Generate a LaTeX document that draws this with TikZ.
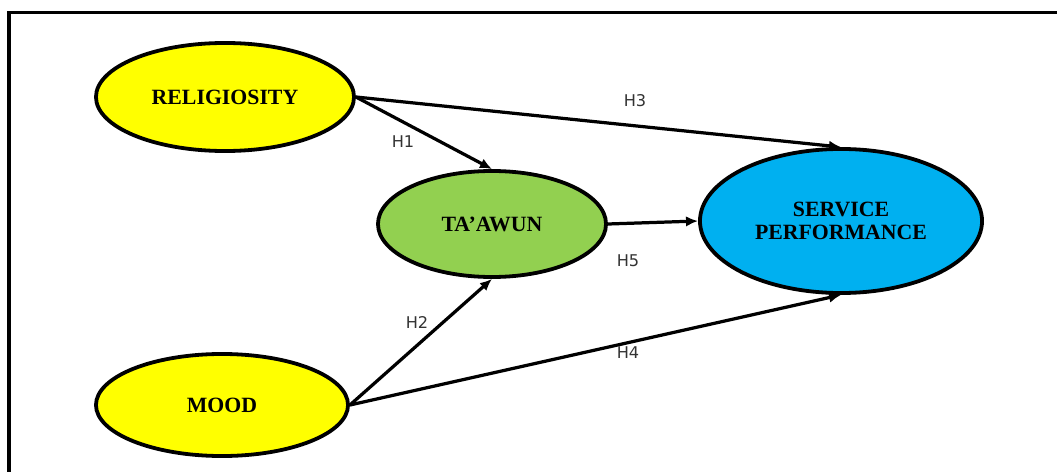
\documentclass[tikz,border=0pt]{standalone}
\usepackage{fontspec}
\setmainfont{Liberation Serif}
\newfontfamily\hfont{DejaVu Sans}
\usetikzlibrary{shapes.geometric,arrows.meta}
\definecolor{jaune}{HTML}{FFFF00}
\definecolor{vert}{HTML}{92D050}
\definecolor{bleu}{HTML}{00B0F0}
\tikzset{
  latente/.style={ellipse, draw=black, line width=2.7pt, inner sep=0pt,
    align=center, font=\fontsize{15.5}{15}\selectfont\bfseries},
  lien/.style={line width=2.3pt, -{Latex[length=3mm,width=2.6mm]}},
  hyp/.style={font=\hfont\fontsize{11.5}{12}\selectfont, text=black!80}
}
\begin{document}
\begin{tikzpicture}[x=0.025cm, y=-0.025cm]
  \useasboundingbox (0,0) rectangle (1057,472);

  % Cadre
  \draw[line width=2.6pt] (9,472) -- (9,12.5) -- (1057,12.5);

  % Variables
  \node[latente, fill=jaune, minimum width=6.45cm, minimum height=2.7cm] (relig) at (225,97) {RELIGIOSITY};
  \node[latente, fill=jaune, minimum width=6.3cm, minimum height=2.55cm] (mood) at (222,405) {MOOD};
  \node[latente, fill=vert, minimum width=5.7cm, minimum height=2.65cm] (taawun) at (492,224) {TA’AWUN};
  \node[latente, fill=bleu, minimum width=7.05cm, minimum height=3.6cm] (perf) at (841,221) {SERVICE\\[1pt]PERFORMANCE};

  % Hypotheses
  \draw[lien] (relig.east) -- (taawun.north);
  \draw[lien] (relig.east) -- (perf.north);
  \draw[lien] (mood.east) -- (taawun.south);
  \draw[lien] (mood.east) -- (perf.south);
  \draw[lien] (taawun.east) -- (perf.west);

  % Etiquettes
  \node[hyp] (h1) at (403,142) {H1};
  \node[hyp] (h2) at (417,322) {H2};
  \node[hyp] (h3) at (635,101) {H3};
  \node[hyp] (h4) at (628,353) {H4};
  \node[hyp] (h5) at (628,261) {H5};

\end{tikzpicture}
\end{document}
